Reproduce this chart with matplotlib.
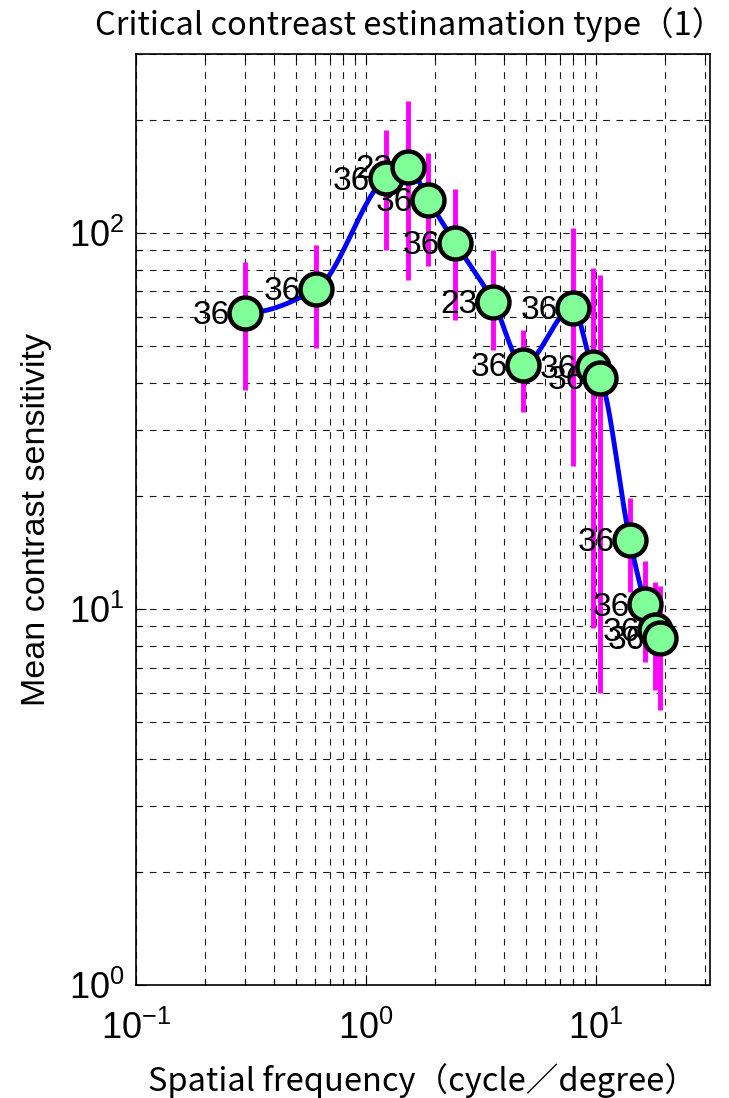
import numpy as np
import matplotlib
matplotlib.use('Agg')
import matplotlib.pyplot as plt
from matplotlib.ticker import LogLocator, NullFormatter

# spatial frequency (cycle/degree), mean contrast sensitivity, error range, subject count
freq = [0.30, 0.61, 1.22, 1.53, 1.87, 2.45, 3.59, 4.84, 7.98, 9.72, 10.5, 14.1, 16.5, 18.1, 19.1]
sens = [61.4, 71.1, 140, 150, 122.6, 94.4, 65.8, 44.7, 63.3, 44.1, 41.2, 15.3, 10.3, 8.8, 8.4]
err_hi = [83.9, 93, 188, 225, 163.5, 131, 90.3, 55.3, 103, 80.9, 77.6, 19.8, 13.4, 11.8, 11.5]
err_lo = [38.3, 49.5, 90.3, 75.2, 81.8, 58.8, 49, 33.5, 24, 8.9, 6.0, 11.1, 7.25, 6.1, 5.4]
counts = ['36', '36', '36', '23', '36', '36', '23', '36', '36', '36', '36', '36', '36', '36', '36']

title = 'Critical contreast estinamation type（1）'
xlabel = 'Spatial frequency（cycle／degree）'
ylabel = 'Mean contrast sensitivity'


def pchip(x, y, xn):
    # shape preserving piecewise cubic, like matlab interp1(...,'pchip')
    x = np.asarray(x, float)
    y = np.asarray(y, float)
    h = np.diff(x)
    d = np.diff(y) / h
    n = len(x)
    m = np.zeros(n)
    for k in range(1, n - 1):
        if d[k - 1] * d[k] > 0:
            w1 = 2 * h[k] + h[k - 1]
            w2 = h[k] + 2 * h[k - 1]
            m[k] = (w1 + w2) / (w1 / d[k - 1] + w2 / d[k])

    def end_slope(h0, h1, d0, d1):
        s = ((2 * h0 + h1) * d0 - h0 * d1) / (h0 + h1)
        if np.sign(s) != np.sign(d0):
            s = 0.0
        elif np.sign(d0) != np.sign(d1) and abs(s) > abs(3 * d0):
            s = 3 * d0
        return s

    m[0] = end_slope(h[0], h[1], d[0], d[1])
    m[-1] = end_slope(h[-1], h[-2], d[-1], d[-2])
    idx = np.clip(np.searchsorted(x, xn) - 1, 0, n - 2)
    t = (xn - x[idx]) / h[idx]
    h00 = 2 * t**3 - 3 * t**2 + 1
    h10 = t**3 - 2 * t**2 + t
    h01 = -2 * t**3 + 3 * t**2
    h11 = t**3 - t**2
    return h00 * y[idx] + h10 * h[idx] * m[idx] + h01 * y[idx + 1] + h11 * h[idx] * m[idx + 1]


plt.rcParams['font.family'] = ['Liberation Sans', 'DejaVu Sans']
plt.rcParams['mathtext.fontset'] = 'custom'
plt.rcParams['mathtext.rm'] = 'Liberation Sans'

fig = plt.figure(figsize=(7.29, 10.98), dpi=100)
ax = fig.add_axes([0.1863, 0.1026, 0.7877, 0.8484])
ax.set_xscale('log')
ax.set_yscale('log')

lx = np.log10(freq)
ly = np.log10(sens)
xs = np.linspace(lx[0], lx[-1], 600)
ax.plot(10**xs, 10**pchip(lx, ly, xs), color=(0, 0, 1), lw=3.5, zorder=3)

ax.vlines(freq, err_lo, err_hi, color=(1, 0, 1), lw=3.5, zorder=2)

for f, s, c in zip(freq, sens, counts):
    ax.annotate(c, (f, s), xytext=(-11, -2), textcoords='offset points',
                ha='right', va='center', fontsize=24, color='k', zorder=4)

ax.plot(freq, sens, 'o', ms=23, mfc=(0.5, 1, 0.6), mec='k', mew=3.2, zorder=5)

ax.set_xlim(0.1, 31.5)
ax.set_ylim(1, 300)
ax.xaxis.set_major_locator(LogLocator(base=10, numticks=10))
ax.yaxis.set_major_locator(LogLocator(base=10, numticks=10))
ax.xaxis.set_minor_locator(LogLocator(base=10, subs=np.arange(2, 10), numticks=20))
ax.yaxis.set_minor_locator(LogLocator(base=10, subs=np.arange(2, 10), numticks=20))
ax.xaxis.set_minor_formatter(NullFormatter())
ax.yaxis.set_minor_formatter(NullFormatter())

ax.grid(True, which='both', color='0.1', lw=0.8, linestyle=(0, (6, 6)), zorder=0)
ax.set_axisbelow(True)
ax.tick_params(which='both', direction='in', top=True, right=True, width=0.8)
ax.tick_params(which='major', length=7, labelsize=26)
ax.tick_params(axis='x', which='major', pad=18)
ax.tick_params(axis='y', which='major', pad=8)
ax.tick_params(which='minor', length=4)
for sp in ax.spines.values():
    sp.set_linewidth(1.2)

ax.set_ylabel(ylabel, fontsize=24.5, labelpad=12)
ax.set_xlabel(xlabel, fontsize=23.5, family=['Noto Sans CJK JP', 'DejaVu Sans'], labelpad=12)
fig.text(0.562, 0.978, title, fontsize=23.5, family=['Noto Sans CJK JP', 'DejaVu Sans'],
         ha='center', va='center')

fig.savefig('out.png', dpi=100)
